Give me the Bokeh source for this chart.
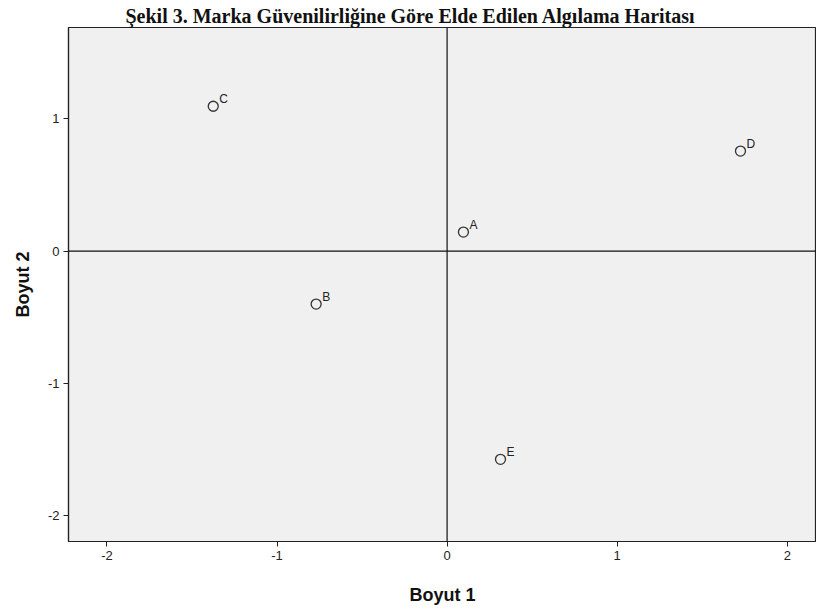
from bokeh.plotting import figure
from bokeh.models import Span, Range1d, FixedTicker, ColumnDataSource, PrintfTickFormatter
from bokeh.core.properties import value
from bokeh.embed import file_html
from bokeh.resources import INLINE

brands = ["A", "B", "C", "D", "E"]
dim1 = [0.096, -0.77, -1.375, 1.725, 0.314]
dim2 = [0.144, -0.40, 1.095, 0.756, -1.573]
x_ticks = [-2, -1, 0, 1, 2]
y_ticks = [-2, -1, 0, 1]
title_text = "Şekil 3. Marka Güvenilirliğine Göre Elde Edilen Algılama Haritası"
x_label = "Boyut 1"
y_label = "Boyut 2"

src = ColumnDataSource(dict(x=dim1, y=dim2, name=brands))

p = figure(width=816, height=609, output_backend="svg", toolbar_location=None,
           x_range=Range1d(-2.226, 2.172), y_range=Range1d(-2.194, 1.69),
           min_border_left=68, min_border_right=0, min_border_top=27, min_border_bottom=68,
           title=title_text)
p.title.text_font = "Liberation Serif"
p.title.text_font_style = "bold"
p.title.text_font_size = "20px"
p.title.text_color = "#111111"
p.title.align = "left"
p.title.offset = 57
p.title.standoff = 2

p.background_fill_color = "#f0f0f0"
p.border_fill_color = "white"
p.outline_line_color = "#222222"
p.outline_line_width = 1.2
p.grid.visible = False

for ax in (p.xaxis[0], p.yaxis[0]):
    ax.axis_line_color = "#222222"
    ax.axis_line_width = 1.2
    ax.major_tick_line_color = "#222222"
    ax.major_tick_in = 0
    ax.major_tick_out = 5
    ax.minor_tick_line_color = None
    ax.major_label_text_font = "Liberation Sans"
    ax.major_label_text_font_size = "13px"
    ax.major_label_text_color = "#222222"
    ax.axis_label_text_font = "Liberation Sans"
    ax.axis_label_text_font_style = "bold"
    ax.axis_label_text_font_size = "18px"
    ax.axis_label_text_color = "#111111"
    ax.major_label_standoff = 4
    ax.formatter = PrintfTickFormatter(format="%d")

p.xaxis.ticker = FixedTicker(ticks=x_ticks)
p.yaxis.ticker = FixedTicker(ticks=y_ticks)
p.xaxis.axis_label = x_label
p.yaxis.axis_label = y_label
p.xaxis.axis_label_standoff = 22
p.yaxis.axis_label_standoff = 12

p.add_layout(Span(location=0, dimension="height", line_color="#111111", line_width=1.2))
p.add_layout(Span(location=0, dimension="width", line_color="#111111", line_width=1.2))

p.scatter("x", "y", source=src, marker="circle", size=10, fill_color=None,
          line_color="#333333", line_width=1.3)
p.text("x", "y", text="name", source=src, x_offset=6, y_offset=-7,
       text_font=value("Liberation Sans"), text_font_size="12px",
       text_color="#222222", text_align="left", text_baseline="alphabetic")

open("out.html", "w").write(file_html(p, INLINE))
